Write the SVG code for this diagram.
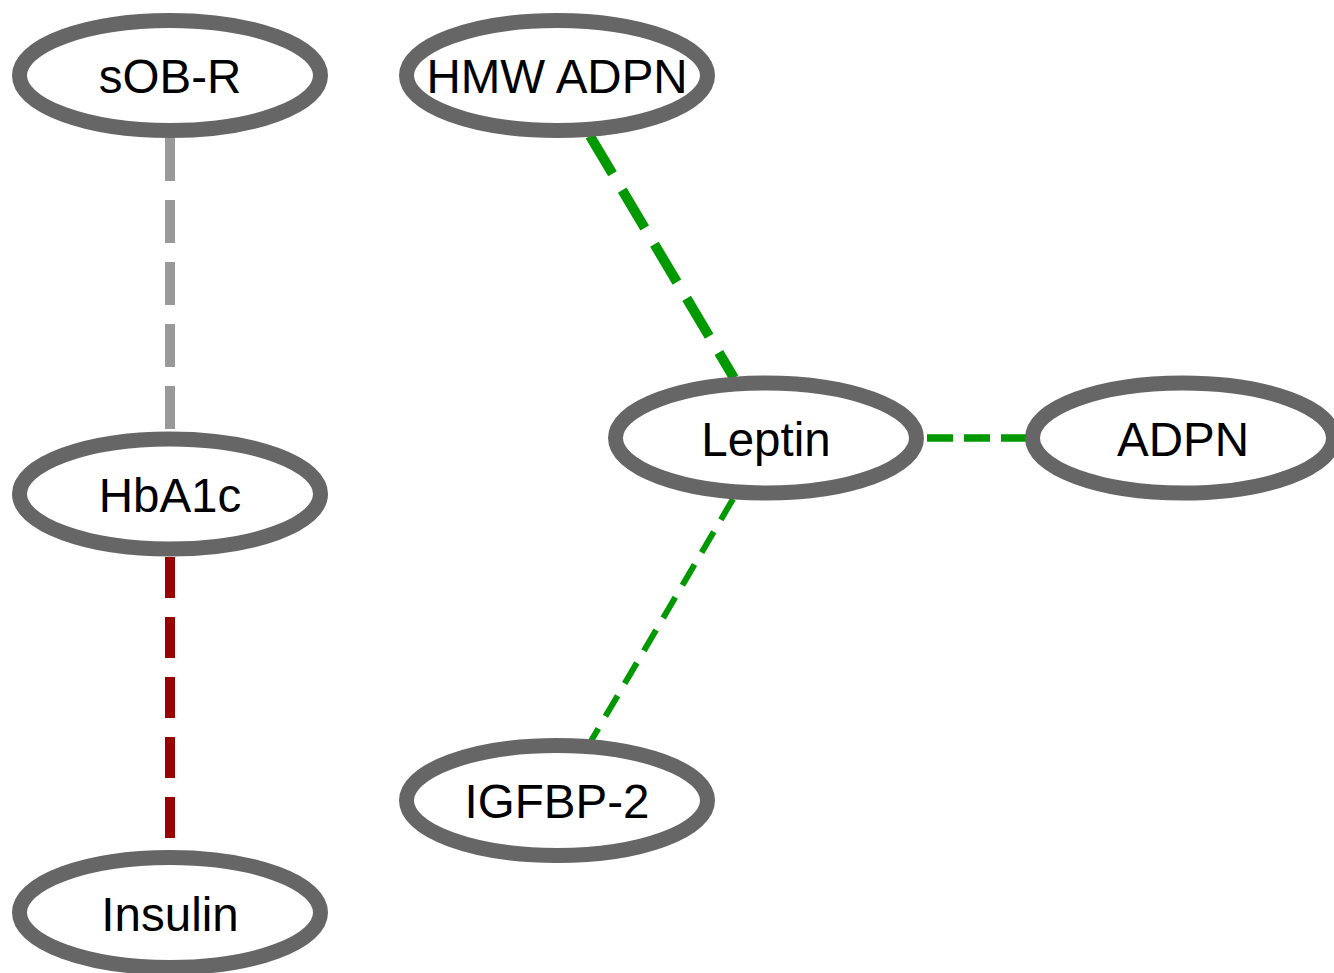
<svg xmlns="http://www.w3.org/2000/svg" width="1334" height="973" viewBox="0 0 1334 973">
  <style>
    .node ellipse { fill: #ffffff; stroke: #666666; stroke-width: 15; }
    .node text { font-family: "Liberation Sans", Arial, sans-serif; font-size: 47.5px; fill: #000000; text-anchor: middle; }
    .edge { fill: none; stroke-linecap: butt; }
    .gray { stroke: #999999; stroke-width: 10; stroke-dasharray: 43 19; }
    .red { stroke: #990000; stroke-width: 10; stroke-dasharray: 41 19; }
    .green-thick { stroke: #009900; stroke-width: 10; stroke-dasharray: 44 19; }
    .green-mid { stroke: #009900; stroke-width: 7.5; stroke-dasharray: 26 11; }
    .green-thin { stroke: #009900; stroke-width: 6; stroke-dasharray: 24 14; }
  </style>
  <rect width="1334" height="973" fill="#ffffff"/>

  <g id="edges">
    <line class="edge gray" x1="170" y1="138" x2="170" y2="432"/>
    <line class="edge red" x1="170" y1="557" x2="170" y2="850"/>
    <line class="edge green-thick" x1="590" y1="136" x2="734" y2="378"/>
    <line class="edge green-mid" x1="927" y1="438" x2="1030" y2="438"/>
    <line class="edge green-thin" x1="733" y1="499" x2="591" y2="741"/>
  </g>

  <g id="node-sOB-R" class="node">
    <ellipse cx="170" cy="75.5" rx="150.5" ry="55"/>
    <text x="170" y="93">sOB-R</text>
  </g>
  <g id="node-HbA1c" class="node">
    <ellipse cx="170" cy="494" rx="150.5" ry="55"/>
    <text x="170" y="512">HbA1c</text>
  </g>
  <g id="node-Insulin" class="node">
    <ellipse cx="170" cy="912.5" rx="150.5" ry="55"/>
    <text x="170" y="931">Insulin</text>
  </g>
  <g id="node-HMW-ADPN" class="node">
    <ellipse cx="557" cy="75.5" rx="150.5" ry="55"/>
    <text x="557" y="93">HMW ADPN</text>
  </g>
  <g id="node-Leptin" class="node">
    <ellipse cx="766" cy="438" rx="150.5" ry="55"/>
    <text x="766" y="456">Leptin</text>
  </g>
  <g id="node-ADPN" class="node">
    <ellipse cx="1183" cy="438" rx="150.5" ry="55"/>
    <text x="1183" y="456">ADPN</text>
  </g>
  <g id="node-IGFBP-2" class="node">
    <ellipse cx="557" cy="800.5" rx="150.5" ry="55"/>
    <text x="557" y="818">IGFBP-2</text>
  </g>
</svg>
